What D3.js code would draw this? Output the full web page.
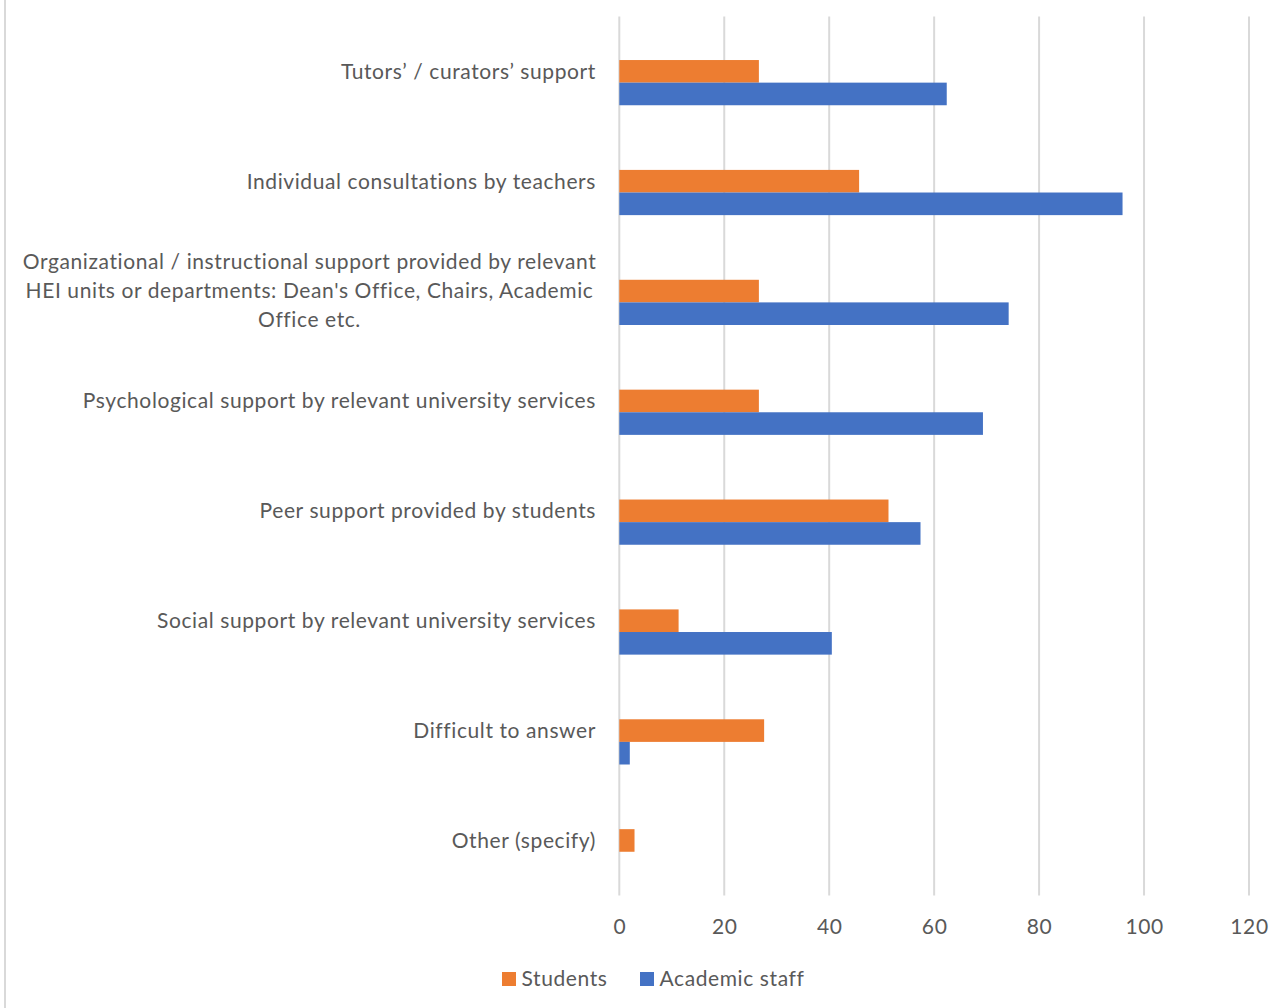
<!DOCTYPE html>
<html>
<head>
<meta charset="utf-8">
<script src="https://cdn.jsdelivr.net/npm/d3@7"></script>
<style>
  html, body { margin: 0; padding: 0; background: #fff; }
  svg { display: block; }
  text { font-family: Lato, "Noto Sans", sans-serif; fill: #595959; letter-spacing: 0.6px; }
</style>
</head>
<body>
<svg id="chart" width="1287" height="1008"></svg>
<script>
const categories = [
  "Tutors’ / curators’ support",
  "Individual consultations by teachers",
  "Organizational / instructional support provided by relevant|HEI units or departments: Dean's Office, Chairs, Academic|Office etc.",
  "Psychological support by relevant university services",
  "Peer support provided by students",
  "Social support by relevant university services",
  "Difficult to answer",
  "Other (specify)"
];
const seriesNames = ["Students", "Academic staff"];
const students = [26.6, 45.7, 26.6, 26.6, 51.3, 11.3, 27.6, 2.9];
const academicStaff = [62.4, 95.9, 74.2, 69.3, 57.4, 40.5, 2.0, 0];
const xTicks = [0, 20, 40, 60, 80, 100, 120];
const colors = ["#ED7D31", "#4472C4"];

const svg = d3.select("#chart");
const W = 1287, H = 1008;
const FS = "21px";

// chart border (left edge visible)
svg.append("rect").attr("x", 5).attr("y", -10).attr("width", W + 20).attr("height", H + 20)
  .attr("fill", "none").attr("stroke", "#D9D9D9").attr("stroke-width", 2);

const plot = { left: 619.3, right: 1249, top: 16.4, bottom: 895.4 };

const x = d3.scaleLinear().domain([0, 120]).range([plot.left, plot.right]);
const y = d3.scaleBand().domain(categories).range([plot.top, plot.bottom]).padding(0);
// three slots per group; the first slot is empty in the source chart
const ySub = d3.scaleBand().domain([0, 1, 2]).range([0, y.bandwidth()])
  .paddingInner(0).paddingOuter(0.93);

// gridlines
const grid = svg.append("g");
grid.selectAll("line").data(xTicks).join("line")
  .attr("x1", d => x(d)).attr("x2", d => x(d))
  .attr("y1", plot.top).attr("y2", plot.bottom)
  .attr("stroke", "#D9D9D9").attr("stroke-width", 2);

// x axis labels
const xAxis = d3.axisBottom(x).tickValues(xTicks).tickSize(0).tickPadding(0);
const gx = svg.append("g").attr("transform", `translate(0, ${plot.bottom})`).call(xAxis);
gx.select(".domain").remove();
gx.selectAll("text").attr("dy", "0.35em").attr("y", 31)
  .style("font-size", FS).style("fill", "#595959")
  .style("font-family", "Lato, 'Noto Sans', sans-serif");

// bars
const data = categories.map((c, i) => ({ cat: c, vals: [students[i], academicStaff[i]] }));
const groups = svg.append("g").selectAll("g").data(data).join("g")
  .attr("transform", d => `translate(0, ${y(d.cat)})`);
groups.selectAll("rect").data(d => d.vals.map((v, j) => ({ v, j }))).join("rect")
  .attr("x", x(0))
  .attr("y", d => ySub(d.j + 1))
  .attr("width", d => x(d.v) - x(0))
  .attr("height", ySub.bandwidth())
  .attr("fill", d => colors[d.j]);

// category labels
const lineH = 29;
const labelG = svg.append("g");
data.forEach(d => {
  const lines = d.cat.split("|");
  const cy = y(d.cat) + y.bandwidth() / 2;
  const t = labelG.append("text").style("font-size", FS);
  if (lines.length === 1) {
    t.attr("x", 596).attr("text-anchor", "end")
      .attr("y", cy).attr("dy", "0.35em").text(lines[0]);
  } else {
    const y0 = cy - (lines.length - 1) * lineH / 2;
    t.attr("text-anchor", "middle");
    lines.forEach((ln, k) => {
      t.append("tspan").attr("x", 309.5).attr("y", y0 + k * lineH).attr("dy", "0.35em").text(ln);
    });
  }
});

// legend
const legend = svg.append("g").attr("transform", "translate(0, 979)");
const legX = [502, 640];
seriesNames.forEach((s, i) => {
  legend.append("rect").attr("x", legX[i]).attr("y", -7).attr("width", 14).attr("height", 14)
    .attr("fill", colors[i]);
  legend.append("text").attr("x", legX[i] + 19.5).attr("y", 0).attr("dy", "0.35em")
    .style("font-size", FS).text(s);
});
</script>
</body>
</html>
